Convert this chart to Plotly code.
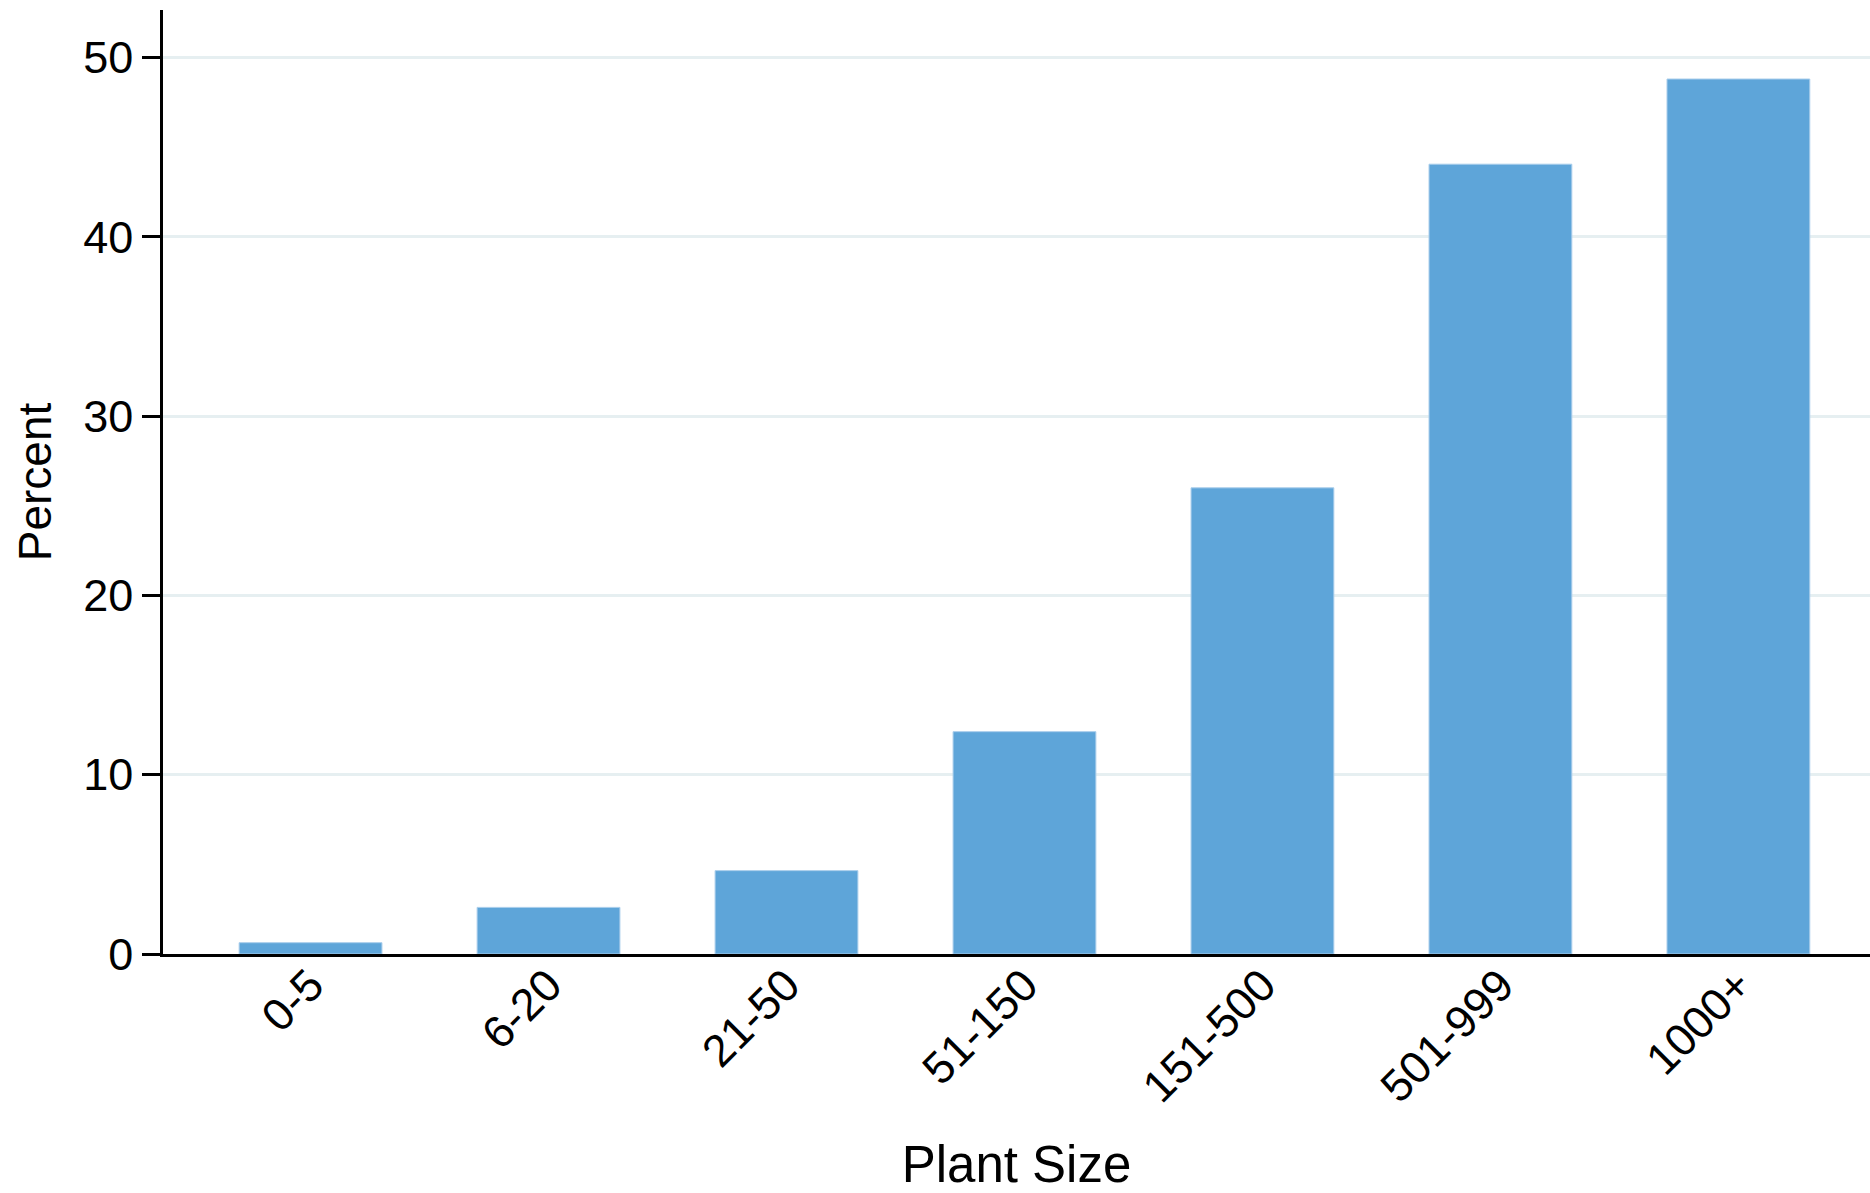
import plotly.graph_objects as go

# Data
categories = ["0-5", "6-20", "21-50", "51-150", "151-500", "501-999", "1000+"]
percent = [0.63, 2.6, 4.65, 12.4, 26.0, 44.05, 48.8]
y_ticks = [0, 10, 20, 30, 40, 50]
y_tick_labels = ["0", "10", "20", "30", "40", "50"]

FONT = "Liberation Sans, Arial, Helvetica, sans-serif"
BAR_COLOR = "#5EA5D9"
GRID_COLOR = "#E6EFF1"

fig = go.Figure(
    go.Bar(
        x=categories,
        y=percent,
        width=0.6,
        marker=dict(color=BAR_COLOR, line=dict(color="#A9CDEB", width=1)),
    )
)

fig.update_layout(
    width=1870,
    height=1193,
    autosize=False,
    margin=dict(l=163, r=0, t=10, b=239, pad=0),
    plot_bgcolor="white",
    paper_bgcolor="white",
    showlegend=False,
    font=dict(family=FONT, color="black"),
    bargap=0.4,
)

fig.update_xaxes(
    type="category",
    range=[-0.62, 6.553],
    showline=True,
    linecolor="black",
    linewidth=2.5,
    ticks="",
    showgrid=False,
    tickangle=-45,
    ticklabelstandoff=-16,
    tickfont=dict(size=45, family=FONT, color="black"),
    title=dict(text="Plant Size", font=dict(size=51, family=FONT, color="black"), standoff=40),
    automargin=False,
)

fig.update_yaxes(
    range=[0, 52.65],
    tickmode="array",
    tickvals=y_ticks,
    ticktext=y_tick_labels,
    showline=True,
    linecolor="black",
    linewidth=2.5,
    ticks="outside",
    ticklen=18,
    tickwidth=2.5,
    tickcolor="black",
    tickfont=dict(size=45, family=FONT, color="black"),
    showgrid=True,
    gridcolor=GRID_COLOR,
    gridwidth=3,
    zeroline=False,
    title=dict(text="Percent", font=dict(size=46, family=FONT, color="black"), standoff=18),
    automargin=False,
)

fig.write_html(
    "out.html",
    config={"displayModeBar": False},
    post_script="document.body.style.margin='0';document.body.style.overflow='hidden';",
)
